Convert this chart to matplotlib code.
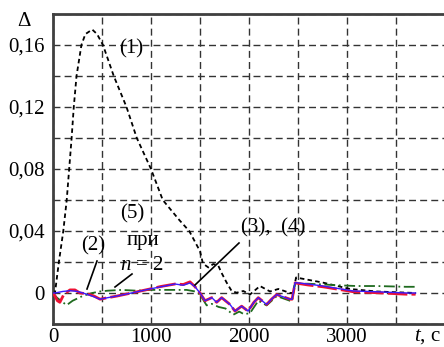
import matplotlib
matplotlib.use("Agg")
import matplotlib.pyplot as plt
from matplotlib.ticker import MultipleLocator, FixedLocator

plt.rcParams['font.family'] = ['Liberation Serif', 'DejaVu Serif']
plt.rcParams['mathtext.fontset'] = 'custom'
plt.rcParams['mathtext.rm'] = 'Liberation Serif'
plt.rcParams['mathtext.it'] = 'Liberation Serif:italic'

# Curve (1)
t1 = [0, 20, 60, 105, 140, 165, 190, 212, 240, 290, 330, 400, 450, 510, 620, 750, 855,
      1000, 1120, 1290, 1390, 1500, 1530, 1585, 1636, 1687, 1720, 1772, 1823, 1874, 1942,
      2010, 2112, 2214, 2300, 2420, 2450, 2480, 2755, 3030, 3300, 3700]
y1 = [0, 0, 0.02, 0.04, 0.06, 0.08, 0.10, 0.12, 0.14, 0.16, 0.167, 0.170, 0.167, 0.16,
      0.14, 0.12, 0.10, 0.08, 0.06, 0.047, 0.040, 0.027, 0.019, 0.0165, 0.0187, 0.0176,
      0.013, 0.0067, 0.0013, 0.0002, 0.0013, -0.001, 0.0045, 0.001, 0.0026, 0.0, 0.0,
      0.0100, 0.0067, 0.0026, 0.001, 0.0]

# Curve (3) red
t3 = [0, 20, 45, 70, 110, 173, 224, 275, 350, 420, 480, 560, 650, 800, 990, 1100, 1245,
      1330, 1398, 1450, 1500, 1551, 1620, 1670, 1721, 1806, 1857, 1925, 1990, 2050, 2095,
      2180, 2230, 2283, 2418, 2440, 2470, 2600, 2755, 2900, 3064, 3300, 3610, 3700]
y3 = [0, -0.002, -0.005, -0.006, -0.001, 0.002, 0.002, 0.0, -0.0005, -0.002, -0.004,
      -0.003, -0.002, 0.0, 0.0026, 0.0042, 0.0058, 0.0055, 0.0072, 0.004, 0.0, -0.005,
      -0.003, -0.006, -0.003, -0.0074, -0.0117, -0.0085, -0.0117, -0.006, -0.003,
      -0.0074, -0.004, -0.001, -0.004, -0.004, 0.0065, 0.0052, 0.0040, 0.0025, 0.0008,
      0.0002, -0.0008, -0.0008]

# Curve (4) blue
t4 = [0, 20, 100, 173, 250, 306, 400, 480, 560, 650, 800, 990, 1100, 1245, 1330, 1398,
      1450, 1500, 1551, 1620, 1670, 1721, 1806, 1857, 1925, 1990, 2050, 2095, 2180, 2230,
      2283, 2418, 2440, 2470, 2600, 2755, 2900, 3064, 3300, 3610, 3700]
y4 = [0, 0, 0.001, 0.0015, 0.001, 0.0, -0.002, -0.004, -0.003, -0.002, 0.0, 0.0026,
      0.004, 0.0058, 0.005, 0.0065, 0.004, 0.0, -0.005, -0.003, -0.006, -0.003, -0.0074,
      -0.0117, -0.0085, -0.0117, -0.006, -0.003, -0.0074, -0.004, -0.001, -0.004, -0.004,
      0.0067, 0.0058, 0.0045, 0.003, 0.0013, 0.0008, 0.0, 0.0]

# Curve (5) green, n = 2
t5 = [0, 40, 100, 140, 200, 300, 400, 480, 560, 700, 850, 990, 1200, 1365, 1450, 1500,
      1568, 1620, 1690, 1760, 1840, 1900, 1950, 2010, 2095, 2180, 2283, 2418, 2440, 2470,
      2600, 2755, 2900, 3100, 3300, 3600, 3700]
y5 = [0, -0.003, -0.006, -0.0078, -0.005, -0.002, 0.0, 0.001, 0.0015, 0.002, 0.0015,
      0.002, 0.002, 0.002, 0.001, -0.001, -0.008, -0.007, -0.009, -0.010, -0.014, -0.012,
      -0.0137, -0.013, -0.005, -0.008, -0.002, -0.005, -0.005, 0.006, 0.006, 0.0055,
      0.005, 0.0045, 0.0045, 0.004, 0.004]

xticks = [0, 1000, 2000, 3000]
xtick_labels = ["0", "1000", "2000", "3000"]
yticks = [0, 0.04, 0.08, 0.12, 0.16]
ytick_labels = ["0", "0,04", "0,08", "0,12", "0,16"]

W, H = 444, 347
fig = plt.figure(figsize=(W / 100, H / 100), dpi=100)
ax = fig.add_axes([53 / W, 23 / H, 391 / W, 310 / H])
ax.set_xlim(0, 3990)
ax.set_ylim(-0.02, 0.18)

ax.plot(t1, y1, color='black', lw=1.3, linestyle=(0, (2.5, 1.8)), zorder=3)
ax.plot(t5, y5, color='#1f6b1f', lw=1.3, linestyle=(0, (6, 2, 1, 2)), zorder=3)
ax.plot(t3, y3, color='#ee1133', lw=2.0, linestyle=(0, (7, 1.5)), zorder=4)
ax.plot(t4, y4, color='#3a1cff', lw=1.0, zorder=5)

ax.xaxis.set_major_locator(FixedLocator(xticks))
ax.set_xticklabels(xtick_labels, fontsize=15)
ax.xaxis.set_minor_locator(MultipleLocator(500))
ax.yaxis.set_major_locator(FixedLocator(yticks))
ax.set_yticklabels(ytick_labels, fontsize=15)
ax.yaxis.set_minor_locator(MultipleLocator(0.02))
ax.tick_params(which='both', length=0)
ax.tick_params(axis='x', pad=3)
ax.tick_params(axis='y', pad=6)
ax.grid(True, which='both', color='#333333', lw=1.0, linestyle=(0, (5, 3)))

for s in ['left', 'bottom', 'top']:
    ax.spines[s].set_color('#404040')
    ax.spines[s].set_linewidth(2)
ax.spines['right'].set_visible(False)


def P(x, y):
    return (x / W, 1 - y / H)


fs = 15
fig.text(*P(24, 21), "Δ", ha='center', va='center', fontsize=15)
fig.text(*P(427, 337), "$\\mathit{t}$, c", ha='center', va='center', fontsize=15)
fig.text(*P(131, 49), "(1)", ha='center', va='center', fontsize=fs)
fig.text(*P(132, 214), "(5)", ha='center', va='center', fontsize=fs)
fig.text(*P(143, 240), "при", ha='center', va='center', fontsize=fs)
fig.text(*P(142, 265), "$\\mathit{n}$ = 2", ha='center', va='center', fontsize=fs)
fig.text(*P(93, 246), "(2)", ha='center', va='center', fontsize=fs)
fig.text(*P(273, 228), "(3),  (4)", ha='center', va='center', fontsize=fs)

for (xa, ya, xb, yb) in [(97, 261, 87, 289), (132, 274, 115, 287), (239, 243, 195, 285)]:
    fig.add_artist(plt.Line2D([xa / W, xb / W], [1 - ya / H, 1 - yb / H],
                              color='black', lw=1.2, transform=fig.transFigure))

fig.savefig("out.png", dpi=100)
